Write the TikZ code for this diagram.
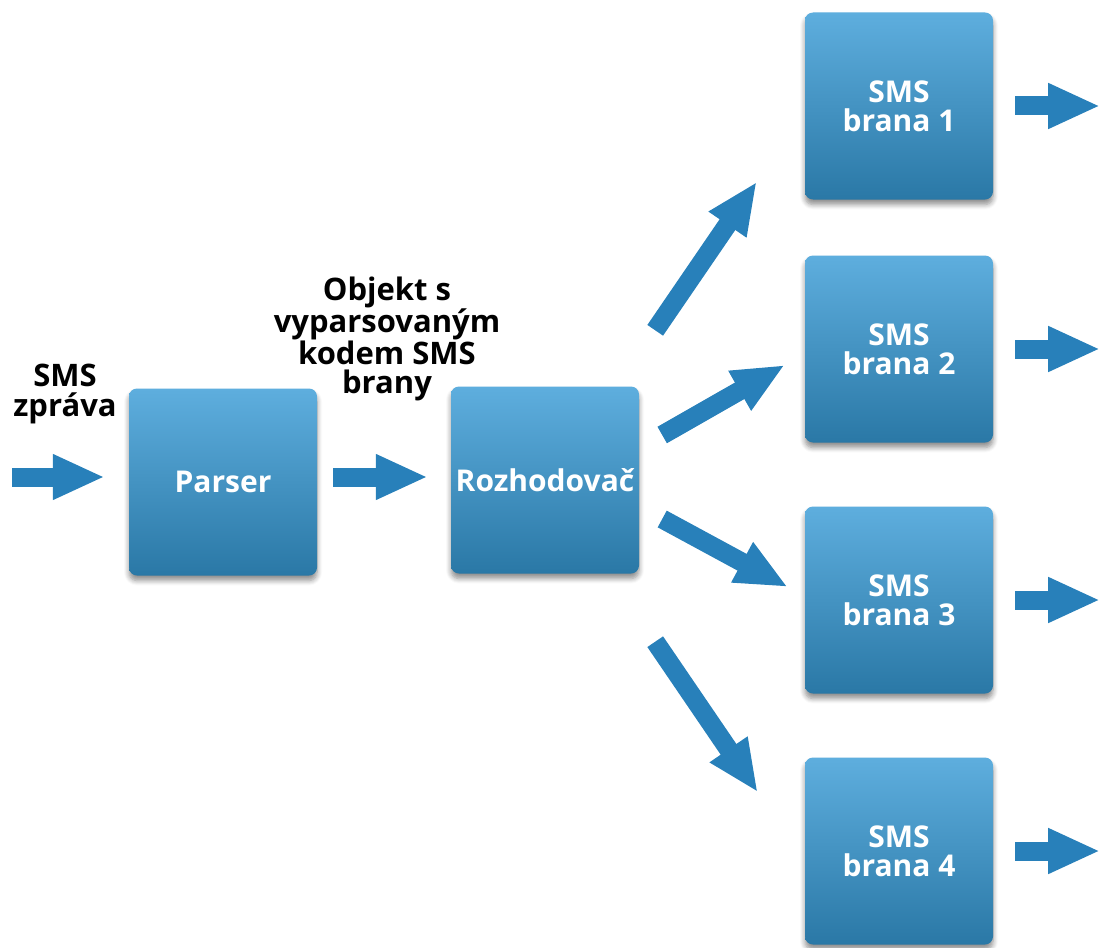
\documentclass[tikz,border=0pt]{standalone}
\usepackage{fontspec}
\setmainfont{Open Sans}
\usetikzlibrary{arrows.meta,shadows.blur}

\definecolor{flowblue}{RGB}{40,128,186}
\definecolor{boxtop}{RGB}{94,174,222}
\definecolor{boxbot}{RGB}{42,120,166}

\begin{document}
\begin{tikzpicture}[x=1pt,y=-1pt,
  unit/.style={rectangle, rounded corners=8pt, minimum width=188pt,
    minimum height=187pt, inner sep=0pt, top color=boxtop, bottom color=boxbot,
    text=white, align=center, font=\fontsize{30}{29}\selectfont\bfseries,
    blur shadow={shadow xshift=0pt, shadow yshift=-5pt, shadow blur steps=6,
      shadow blur radius=5pt, shadow opacity=45}},
  caption/.style={align=center, text=black, inner sep=0pt,
    font=\fontsize{31}{29.5}\selectfont\bfseries},
  flow/.style={draw=flowblue, line width=19pt,
    -{Triangle[length=52pt, width=42pt]}}]

\useasboundingbox (0,0) rectangle (1102,947);

% processing stages
\node[unit] (parser) at (223,482) {Parser};
\node[unit] (roz) at (545,480) {Rozhodovač};

% gateways
\node[unit] (b1) at (899,106) {SMS\\brana 1};
\node[unit] (b2) at (899,349) {SMS\\brana 2};
\node[unit] (b3) at (899,600) {SMS\\brana 3};
\node[unit] (b4) at (899,851) {SMS\\brana 4};

% captions
\node[caption] (msg) at (65,394) {SMS\\zpráva};
\node[caption] (obj) at (387,339) {Objekt s\\vyparsovaným\\kodem SMS\\brany};

% input
\coordinate (in) at (12,477);
\draw[flow] (in) -- ([xshift=-24pt]parser.west |- in);
\draw[flow] ([xshift=16pt]parser.east |- in) -- ([xshift=-23pt]roz.west |- in);

% dispatch to gateways
\draw[flow] ([shift={(16,-56)}]roz.north east) -- ([shift={(-48,-18)}]b1.south west);
\draw[flow] ([shift={(23,-45)}]roz.east) -- ([shift={(-20,16)}]b2.west);
\draw[flow] ([shift={(23,39)}]roz.east) -- ([shift={(-17,-13)}]b3.west);
\draw[flow] ([shift={(16,68)}]roz.south east) -- ([shift={(-47,35)}]b4.north west);

% outputs
\foreach \g in {b1,b2,b3,b4}
  \draw[flow] ([xshift=22pt]\g.east) -- ([xshift=107pt]\g.east);
\end{tikzpicture}
\end{document}
